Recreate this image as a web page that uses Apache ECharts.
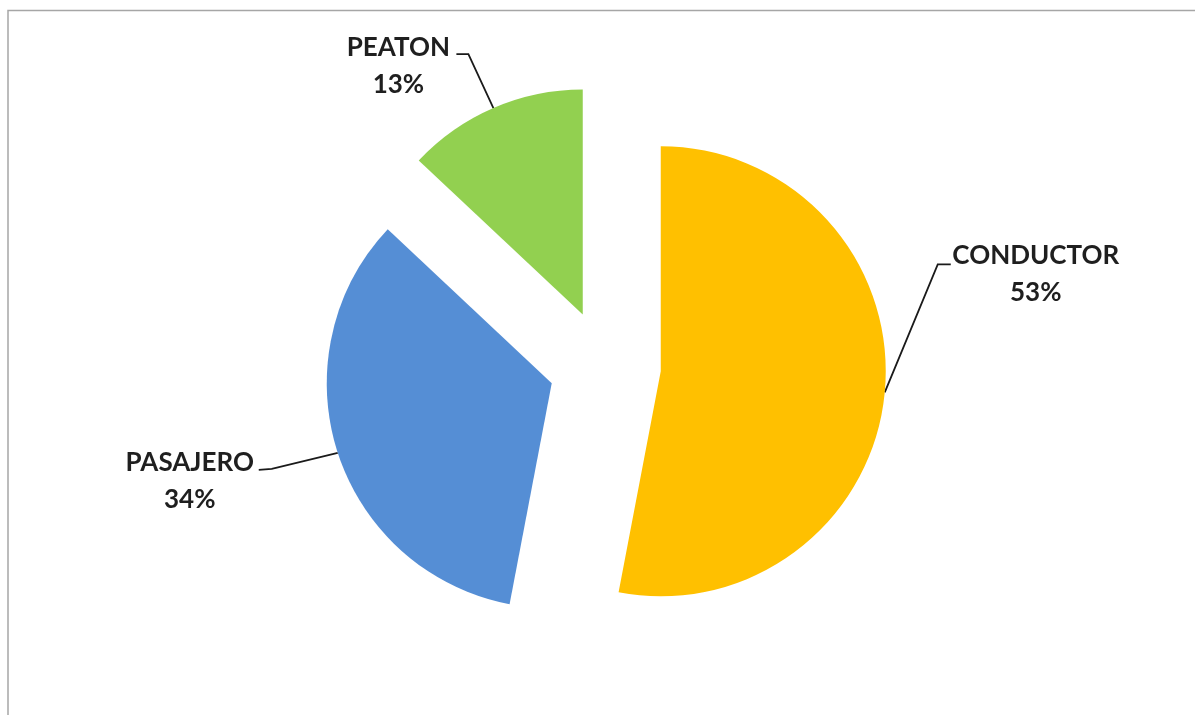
<!DOCTYPE html>
<html>
<head>
<meta charset="utf-8">
<script src="https://cdn.jsdelivr.net/npm/echarts@6/dist/echarts.min.js"></script>
<style>
  html, body { margin: 0; padding: 0; background: #ffffff; }
  #chart { width: 1195px; height: 715px; }
</style>
</head>
<body>
<div id="chart"></div>
<script>
// Categories and their shares (percent)
const categories = ['CONDUCTOR', 'PASAJERO', 'PEATON'];
const percents = [53, 34, 13];

// Slice colours, same order as categories
const colors = ['#FFC000', '#558ED5', '#92D050'];

// Leader-line geometry per slice, relative to the slice's outer-edge anchor:
// bend point, end point and label centre
const leaders = [
  { bend: [53, -128], end: [66, -128], label: [151, -118] },
  { bend: [-66, 16], end: [-79, 17], label: [-148, 28] },
  { bend: [-25, -54], end: [-37, -54], label: [-95, -42] }
];

const chart = echarts.init(document.getElementById('chart'));

const total = percents.reduce((a, b) => a + b, 0);
const baseCenter = [605, 366];
const radius = 225;
const explode = 56;

// One pie per slice so every slice can be pulled out along its own mid-angle
let cumulative = 0;
const series = categories.map((name, i) => {
  const midFrac = (cumulative + percents[i] / 2) / total;
  cumulative += percents[i];
  const ang = (90 - midFrac * 360) * Math.PI / 180;
  const cx = baseCenter[0] + Math.cos(ang) * explode;
  const cy = baseCenter[1] - Math.sin(ang) * explode;
  const lead = leaders[i];
  return {
    type: 'pie',
    center: [cx, cy],
    radius: radius,
    startAngle: 90,
    clockwise: true,
    silent: true,
    animation: false,
    avoidLabelOverlap: false,
    emphasis: { disabled: true },
    label: {
      position: 'outside',
      formatter: p => p.name + '\n' + p.value + '%',
      fontFamily: 'Lato',
      fontWeight: 'bold',
      fontSize: 26,
      lineHeight: 37,
      color: '#1f1f1f',
      align: 'center'
    },
    labelLine: {
      lineStyle: { color: '#1a1a1a', width: 1.8 }
    },
    labelLayout: function (p) {
      if (p.dataIndex !== i || !p.labelLinePoints) return {};
      const a = p.labelLinePoints[0].slice();
      return {
        x: a[0] + lead.label[0],
        y: a[1] + lead.label[1],
        align: 'center',
        verticalAlign: 'middle',
        labelLinePoints: [
          a,
          [a[0] + lead.bend[0], a[1] + lead.bend[1]],
          [a[0] + lead.end[0], a[1] + lead.end[1]]
        ]
      };
    },
    data: categories.map((n, j) => ({
      name: n,
      value: percents[j],
      itemStyle: { color: j === i ? colors[j] : 'rgba(0,0,0,0)' },
      label: { show: j === i },
      labelLine: { show: j === i }
    }))
  };
});

chart.setOption({
  backgroundColor: '#ffffff',
  animation: false,
  graphic: [{
    type: 'rect',
    shape: { x: 8, y: 10.5, width: 1300, height: 800 },
    style: { fill: 'none', stroke: '#a6a6a6', lineWidth: 1.5 },
    silent: true
  }],
  series: series
});
</script>
</body>
</html>
